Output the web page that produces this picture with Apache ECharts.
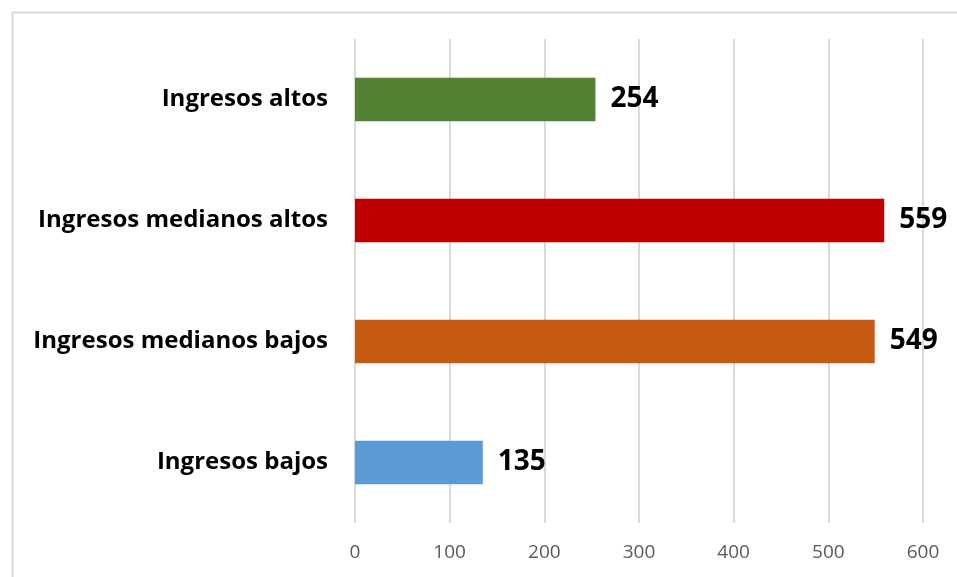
<!DOCTYPE html>
<html><head><meta charset="utf-8">
<script src="https://cdn.jsdelivr.net/npm/echarts@6/dist/echarts.min.js"></script>
<style>html,body{margin:0;padding:0;background:#fff}#c{width:957px;height:577px}</style>
</head><body><div id="c"></div>
<script>
const categories = ["Ingresos bajos", "Ingresos medianos bajos", "Ingresos medianos altos", "Ingresos altos"];
const values = [135, 549, 559, 254];
const colors = ["#5B9BD5", "#C55A11", "#C00000", "#548235"];
const xTicks = [0, 100, 200, 300, 400, 500, 600];

const chart = echarts.init(document.getElementById('c'), null, {renderer: 'canvas'});
chart.setOption({
  animation: false,
  backgroundColor: '#fff',
  graphic: [{
    type: 'rect', left: 10, top: 10, shape: {width: 1000, height: 1000},
    style: {fill: 'none', stroke: '#d9d9d9', lineWidth: 2}, z: -1
  }],
  grid: {left: 355, right: 34, top: 39, bottom: 54, containLabel: false},
  xAxis: {
    type: 'value', min: xTicks[0], max: xTicks[xTicks.length - 1], interval: 100,
    axisLine: {show: false}, axisTick: {show: false},
    splitLine: {lineStyle: {color: '#d9d9d9', width: 2}},
    axisLabel: {color: '#595959', fontSize: 19, fontFamily: 'Open Sans', margin: 20}
  },
  yAxis: {
    type: 'category', data: categories,
    axisLine: {show: false}, axisTick: {show: false},
    axisLabel: {color: '#000', fontSize: 24, fontWeight: 'bold', fontFamily: 'Open Sans', margin: 27}
  },
  series: [{
    type: 'bar', barWidth: '36%',
    data: values.map((v, i) => ({value: v, itemStyle: {color: colors[i]}})),
    label: {show: true, position: 'right', distance: 15, color: '#000', fontSize: 28, fontWeight: 'bold', fontFamily: 'Open Sans'}
  }]
});
</script></body></html>
